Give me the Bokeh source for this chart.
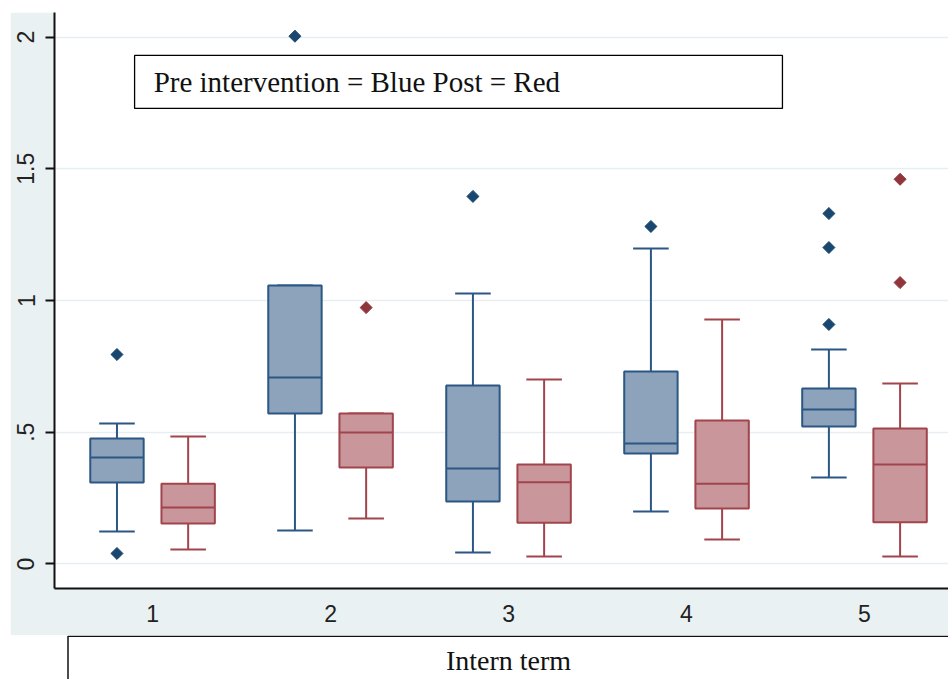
from bokeh.plotting import figure
from bokeh.models import Range1d, FixedTicker, BoxAnnotation, Label, ColumnDataSource, Spacer
from bokeh.layouts import column, row
from bokeh.embed import file_html
from bokeh.resources import INLINE

# ---- data ----
terms = [1, 2, 3, 4, 5]
tick_values = [0, 0.5, 1, 1.5, 2]
tick_labels = ["0", ".5", "1", "1.5", "2"]

pre_lower = [0.123, 0.127, 0.044, 0.199, 0.328]
pre_q1 = [0.309, 0.571, 0.237, 0.419, 0.522]
pre_median = [0.404, 0.708, 0.362, 0.457, 0.586]
pre_q3 = [0.476, 1.057, 0.677, 0.731, 0.666]
pre_upper = [0.533, 1.057, 1.027, 1.197, 0.814]
pre_out_term = [1, 1, 2, 3, 4, 5, 5, 5]
pre_out_value = [0.795, 0.040, 2.003, 1.395, 1.281, 1.330, 1.201, 0.909]

post_lower = [0.055, 0.173, 0.028, 0.093, 0.028]
post_q1 = [0.154, 0.366, 0.157, 0.211, 0.158]
post_median = [0.214, 0.499, 0.310, 0.305, 0.378]
post_q3 = [0.305, 0.571, 0.378, 0.545, 0.514]
post_upper = [0.484, 0.571, 0.700, 0.928, 0.685]
post_out_term = [2, 5, 5]
post_out_value = [0.973, 1.460, 1.068]

legend_text = "Pre intervention = Blue Post = Red"
x_title = "Intern term"

# ---- styling ----
BAND = "#EAF1F3"
PW, PH = 938, 623
p = figure(width=PW, height=PH, output_backend="svg", toolbar_location=None,
           x_range=Range1d(0.449, 5.472), y_range=Range1d(-0.093, 2.093),
           min_border_left=44, min_border_right=0, min_border_top=0, min_border_bottom=47)
p.border_fill_color = BAND
p.background_fill_color = "white"
p.outline_line_color = None

# axes
p.xaxis.ticker = FixedTicker(ticks=terms)
p.yaxis.ticker = FixedTicker(ticks=tick_values)
p.yaxis.major_label_overrides = {v: s for v, s in zip(tick_values, tick_labels)}
p.yaxis.major_label_orientation = "vertical"
for ax in (p.xaxis, p.yaxis):
    ax.axis_line_color = "#111111"
    ax.axis_line_width = 2
    ax.major_label_text_font = "Liberation Sans"
    ax.major_label_text_font_size = "23px"
    ax.major_label_text_color = "#222222"
    ax.minor_tick_line_color = None
p.xaxis.major_tick_line_color = None
p.xaxis.major_tick_out = 0
p.xaxis.major_tick_in = 0
p.xaxis.major_label_standoff = 16
p.yaxis.major_tick_line_color = "#111111"
p.yaxis.major_tick_line_width = 2
p.yaxis.major_tick_out = 9
p.yaxis.major_tick_in = 0
p.yaxis.major_label_standoff = 11

p.xgrid.grid_line_color = None
p.ygrid.ticker = FixedTicker(ticks=tick_values)
p.ygrid.grid_line_color = "#E6EEF1"
p.ygrid.grid_line_width = 1.5

OFF = 0.2
BOXW = 0.3
CAP = 0.1


def draw(xs, lower, q1, med, q3, upper, out_t, out_v, off, fill, line, dot):
    x = [t + off for t in xs]
    src = ColumnDataSource(dict(x=x, x0=[v - CAP for v in x], x1=[v + CAP for v in x],
                                xm0=[v - BOXW / 2 for v in x], xm1=[v + BOXW / 2 for v in x],
                                lower=lower, q1=q1, med=med, q3=q3, upper=upper))
    p.segment(x0="x", y0="q3", x1="x", y1="upper", source=src, line_color=line, line_width=2)
    p.segment(x0="x", y0="lower", x1="x", y1="q1", source=src, line_color=line, line_width=2)
    p.segment(x0="x0", y0="upper", x1="x1", y1="upper", source=src, line_color=line, line_width=2)
    p.segment(x0="x0", y0="lower", x1="x1", y1="lower", source=src, line_color=line, line_width=2)
    p.vbar(x="x", width=BOXW, bottom="q1", top="q3", source=src,
           fill_color=fill, line_color=line, line_width=2)
    p.segment(x0="xm0", y0="med", x1="xm1", y1="med", source=src, line_color=line, line_width=2)
    osrc = ColumnDataSource(dict(x=[t + off for t in out_t], y=out_v))
    p.scatter(x="x", y="y", source=osrc, marker="square", angle=0.785398, size=8.5,
              fill_color=dot, line_color=dot, line_width=1)


draw(terms, pre_lower, pre_q1, pre_median, pre_q3, pre_upper, pre_out_term, pre_out_value,
     -OFF, "#8CA3BB", "#2C5784", "#1A476F")
draw(terms, post_lower, post_q1, post_median, post_q3, post_upper, post_out_term, post_out_value,
     OFF, "#C8969B", "#A2444C", "#90353B")

# legend box
p.add_layout(BoxAnnotation(left=0.899, right=4.539, top=1.930, bottom=1.729,
                           fill_color="white", fill_alpha=1, line_color="#000000",
                           line_alpha=1, line_width=1.3, level="overlay"))
p.add_layout(Label(x=1.006, y=1.829, text=legend_text, text_font="Liberation Serif",
                   text_font_size="29px", text_color="#111111", text_baseline="middle",
                   text_align="left", level="overlay"))

# strip holding the x title (its own small canvas, pixel coordinates)
TW, TH = 948, 44
t = figure(width=TW, height=TH, output_backend="svg", toolbar_location=None,
           x_range=Range1d(0, TW), y_range=Range1d(0, TH),
           min_border=0, outline_line_color=None)
t.axis.visible = False
t.grid.visible = False
t.border_fill_color = "white"
t.background_fill_color = "white"
t.add_layout(BoxAnnotation(left=67.5, right=TW + 20, top=TH - 0.8, bottom=-20,
                           fill_color=None, fill_alpha=0, line_color="#111111",
                           line_alpha=1, line_width=1.5))
t.add_layout(Label(x=508, y=TH - 25, text=x_title, text_font="Liberation Serif",
                   text_font_size="28px", text_color="#111111", text_baseline="middle",
                   text_align="center"))

layout = column(Spacer(width=948, height=12),
                row(Spacer(width=10, height=PH), p, spacing=0),
                t, spacing=0)

open("out.html", "w").write(file_html(layout, INLINE))
